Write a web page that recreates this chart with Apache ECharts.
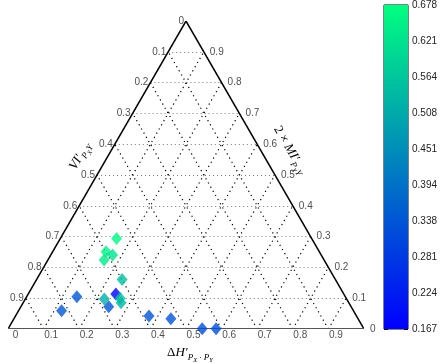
<!DOCTYPE html>
<html>
<head>
<meta charset="utf-8">
<script src="https://cdn.jsdelivr.net/npm/echarts@6/dist/echarts.min.js"></script>
<style>
  html, body { margin: 0; padding: 0; background: #fff; }
  #chart { width: 442px; height: 363px; }
</style>
</head>
<body>
<div id="chart"></div>
<script>
// ternary axes: bottom = dH', left = VI', right = 2 x MI'
const bottomTicks = [0, 0.1, 0.2, 0.3, 0.4, 0.5, 0.6, 0.7, 0.8, 0.9];
const leftTicks = [0, 0.1, 0.2, 0.3, 0.4, 0.5, 0.6, 0.7, 0.8, 0.9];
const rightTicks = [0, 0.1, 0.2, 0.3, 0.4, 0.5, 0.6, 0.7, 0.8, 0.9];
const gridSteps = [0.1, 0.2, 0.3, 0.4, 0.5, 0.6, 0.7, 0.8, 0.9];

// points: dH' component, 2 x MI' component (VI' is the rest), colour value
const deltaH = [0.158, 0.150, 0.174, 0.158, 0.240, 0.246, 0.222, 0.265, 0.275, 0.247, 0.141, 0.121, 0.375, 0.441, 0.545, 0.584];
const mutualInfo = [0.294, 0.251, 0.240, 0.224, 0.161, 0.114, 0.097, 0.100, 0.085, 0.072, 0.105, 0.059, 0.042, 0.033, 0.001, 0.001];
const pointValue = [0.665, 0.650, 0.625, 0.640, 0.550, 0.170, 0.520, 0.560, 0.530, 0.340, 0.340, 0.340, 0.335, 0.335, 0.320, 0.320];

const colorTicks = ["0.167", "0.224", "0.281", "0.338", "0.394", "0.451", "0.508", "0.564", "0.621", "0.678"];
const colorMin = 0.167;
const colorMax = 0.678;
const winter = ["#0000ff", "#00ff80"];

function ternXY(dh, mi) {
  return [dh + mi / 2, mi];
}

const gridSegments = [];
gridSteps.forEach((s) => {
  gridSegments.push({ coords: [ternXY(0, s), ternXY(1 - s, s)], lineStyle: { color: "#777", width: 1, type: [1, 3] } });
  gridSegments.push({ coords: [ternXY(s, 0), ternXY(s, 1 - s)], lineStyle: { color: "#000", width: 1.2, type: [1.2, 3.6] } });
  gridSegments.push({ coords: [ternXY(1 - s, 0), ternXY(0, 1 - s)], lineStyle: { color: "#000", width: 1.2, type: [1.2, 3.6] } });
});

const edgeSegments = [
  { coords: [ternXY(0, 0), ternXY(0, 1)], lineStyle: { color: "#000", width: 1.5 } },
  { coords: [ternXY(0, 1), ternXY(1, 0)], lineStyle: { color: "#000", width: 1.5 } },
  { coords: [ternXY(0, 0), ternXY(1, 0)], lineStyle: { color: "#555", width: 2 } }
];

const points = deltaH.map((dh, i) => [...ternXY(dh, mutualInfo[i]), pointValue[i]]);

const tickFont = {
  fontFamily: "Liberation Sans, Arial, sans-serif",
  fontSize: 10,
  color: "#222"
};

function labelSeries(ticks, place, label) {
  return {
    type: "scatter",
    xAxisIndex: 0,
    yAxisIndex: 0,
    symbolSize: 0,
    silent: true,
    data: ticks.map((v) => ({ value: place(v), name: String(v) })),
    label: Object.assign({ show: true, formatter: (p) => p.name }, tickFont, label)
  };
}

// subscripts are pushed down with top padding
const serifFont = "Liberation Serif, DejaVu Serif, serif";
const titleRich = {
  m: { fontFamily: serifFont, fontSize: 13, fontStyle: "italic", color: "#222" },
  u: { fontFamily: serifFont, fontSize: 13, color: "#222" },
  s: { fontFamily: serifFont, fontSize: 9, fontStyle: "italic", color: "#222", padding: [9, 0, 0, 0] },
  ss: { fontFamily: serifFont, fontSize: 6.5, fontStyle: "italic", color: "#222", padding: [14, 0, 0, 0] }
};

const chart = echarts.init(document.getElementById("chart"));

chart.setOption({
  animation: false,
  backgroundColor: "#fff",
  grid: [
    { left: 8, top: 21, width: 356, height: 308 },
    { left: 384, top: 5, width: 24, height: 324, show: true, borderColor: "#000", borderWidth: 1 }
  ],
  xAxis: [
    { gridIndex: 0, type: "value", min: 0, max: 1, show: false },
    { gridIndex: 1, type: "category", data: ["c"], show: false, boundaryGap: true }
  ],
  yAxis: [
    { gridIndex: 0, type: "value", min: 0, max: 1, show: false },
    {
      gridIndex: 1, type: "value", min: 0, max: 9, interval: 1, position: "right",
      axisLine: { show: false },
      splitLine: { show: false },
      axisTick: { show: true, inside: true, length: 4, lineStyle: { color: "#000" } },
      axisLabel: Object.assign({ margin: 4, formatter: (v) => colorTicks[v] }, tickFont)
    },
    {
      gridIndex: 1, type: "value", min: 0, max: 9, interval: 1, position: "left",
      axisLine: { show: false },
      splitLine: { show: false },
      axisTick: { show: true, inside: true, length: 4, lineStyle: { color: "#000" } },
      axisLabel: { show: false }
    }
  ],
  visualMap: {
    show: false,
    type: "continuous",
    seriesIndex: 2,
    dimension: 2,
    min: colorMin,
    max: colorMax,
    inRange: { color: winter }
  },
  series: [
    {
      type: "lines",
      coordinateSystem: "cartesian2d",
      xAxisIndex: 0,
      yAxisIndex: 0,
      silent: true,
      lineStyle: { opacity: 1 },
      data: gridSegments
    },
    {
      type: "lines",
      coordinateSystem: "cartesian2d",
      xAxisIndex: 0,
      yAxisIndex: 0,
      silent: true,
      lineStyle: { opacity: 1 },
      data: edgeSegments
    },
    {
      type: "scatter",
      xAxisIndex: 0,
      yAxisIndex: 0,
      symbol: "diamond",
      symbolSize: [11, 13],
      data: points
    },
    labelSeries(bottomTicks, (v) => ternXY(v, 0), { position: "bottom", distance: 1, offset: [7.5, 0] }),
    labelSeries(leftTicks, (v) => ternXY(0, 1 - v), { position: "left", distance: 2 }),
    labelSeries(rightTicks, (v) => ternXY(1 - v, v), { position: "right", distance: 6 }),
    {
      type: "bar",
      xAxisIndex: 1,
      yAxisIndex: 1,
      barWidth: "100%",
      silent: true,
      data: [9],
      itemStyle: {
        color: {
          type: "linear", x: 0, y: 1, x2: 0, y2: 0,
          colorStops: [{ offset: 0, color: winter[0] }, { offset: 1, color: winter[1] }]
        }
      }
    }
  ],
  graphic: [
    {
      type: "text", x: 190, y: 353,
      style: {
        text: "{u|Δ}{m|H′}{s|P}{ss|X}{s| · P}{ss|Y}",
        rich: titleRich, align: "center", verticalAlign: "middle"
      }
    },
    {
      type: "text", x: 80, y: 156, rotation: Math.PI / 3,
      style: {
        text: "{m|VI′}{s|P}{ss|X}{s|Y}",
        rich: titleRich, align: "center", verticalAlign: "middle"
      }
    },
    {
      type: "text", x: 290, y: 150, rotation: -Math.PI / 3,
      style: {
        text: "{u|2 × }{m|MI′}{s|P}{ss|X}{s|Y}",
        rich: titleRich, align: "center", verticalAlign: "middle"
      }
    }
  ]
});
</script>
</body>
</html>
